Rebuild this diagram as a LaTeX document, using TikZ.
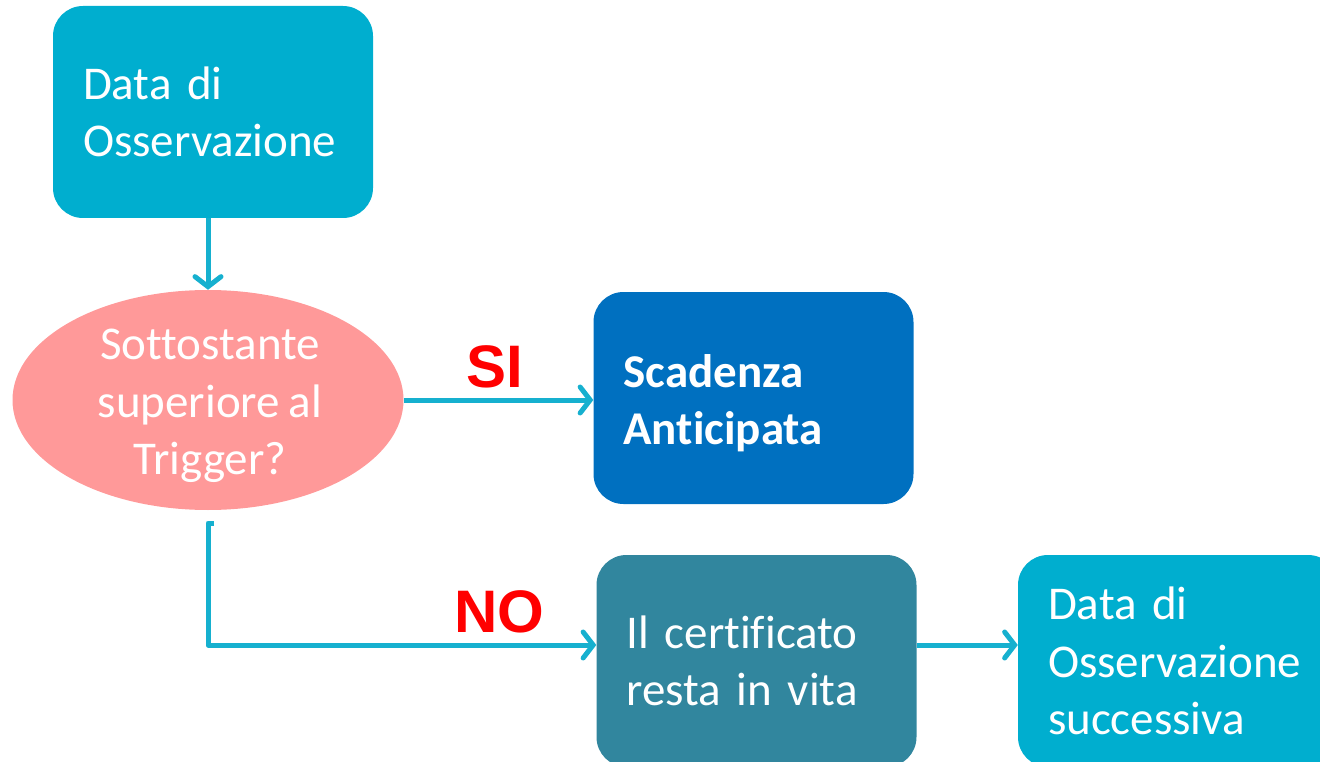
\documentclass[tikz,border=0pt]{standalone}
\usepackage{fontspec}
\setmainfont[Ligatures=NoCommon,WordSpace=0.85]{Carlito}
\newfontfamily\arialfont{Liberation Sans}
\usetikzlibrary{arrows.meta,shapes.geometric}
\definecolor{boxcyan}{RGB}{0,174,207}
\definecolor{boxblue}{RGB}{0,112,192}
\definecolor{boxteal}{RGB}{49,134,158}
\definecolor{ovalpink}{RGB}{255,153,153}
\definecolor{arrowcyan}{RGB}{22,176,207}
\definecolor{labelred}{RGB}{255,0,0}
\tikzset{
  flowbox/.style={draw=none, rounded corners=30pt, minimum width=320pt, minimum height=212pt,
    inner xsep=30pt, text width=260pt, align=left, text=white,
    font=\fontsize{47}{57.5}\selectfont},
  decision/.style={ellipse, draw=none, fill=ovalpink, minimum width=391pt, minimum height=220pt,
    inner sep=0pt},
  decisiontext/.style={align=center, text=white, inner sep=0pt, font=\fontsize{47}{57.5}\selectfont},
  flowarrow/.style={draw=arrowcyan, line width=5pt,
    -{Straight Barb[length=10pt,width=26pt,line cap=round]}},
  answer/.style={text=labelred, font=\arialfont\bfseries\fontsize{60}{60}\selectfont, inner sep=0pt}
}
\begin{document}
\begin{tikzpicture}[x=1pt,y=-1pt]
\useasboundingbox (0,0) rectangle (1320,762);
\clip (0,0) rectangle (1320,762);
\node[flowbox, fill=boxcyan] (obs) at (213,112) {Data di\\Osservazione};
\node[decision] (trig) at (208,400) {};
\node[decisiontext] (trigtext) at (210,406) {Sottostante\\superiore al\\Trigger?};
\node[flowbox, fill=boxblue] (scad) at (753.5,398) {};
\node[flowbox, font=\bfseries\fontsize{47}{57.5}\selectfont] (scadtext) at (753.5,403) {Scadenza\\Anticipata};
\node[flowbox, fill=boxteal] (cert) at (756.5,661) {Il certificato\\resta in vita};
\node[flowbox, fill=boxcyan] (succ) at (1178,661) {Data di\\Osservazione\\successiva};
\coordinate (nostart) at (214,523);
\coordinate (nocorner) at (208,645);
\draw[flowarrow] (trig.north |- obs.south) -- (trig.north);
\draw[flowarrow] (trig.east) -- (scad.west |- trig.east);
\draw[flowarrow, line join=round] (nostart) -- (nostart -| nocorner) -- (nocorner) -- (cert.west |- nocorner);
\draw[flowarrow] (cert.east |- nocorner) -- (succ.west |- nocorner);
\node[answer] (si) at (495,367) {SI};
\node[answer] (no) at (499,612) {NO};
\end{tikzpicture}
\end{document}
